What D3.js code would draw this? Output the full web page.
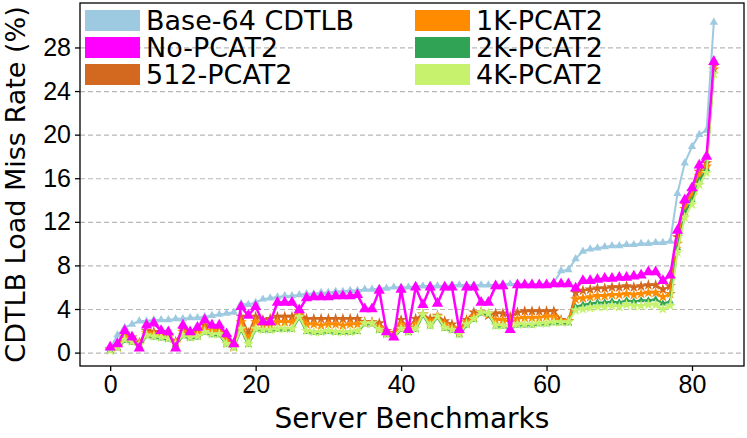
<!DOCTYPE html>
<html>
<head>
<meta charset="utf-8">
<script src="https://cdn.jsdelivr.net/npm/d3@7"></script>
<style>
  body { margin: 0; background: #fff; }
  svg { font-family: 'DejaVu Sans', sans-serif; }
  .axis text { font-size: 25px; fill: #000; }
  .axis path, .axis line { stroke: #000; stroke-width: 1.3; }
  .grid line { stroke: #b8b8b8; stroke-width: 1.2; stroke-dasharray: 5, 3; }
</style>
</head>
<body>
<svg id="chart"></svg>
<script>
const seriesNames = ['Base-64 CDTLB', 'No-PCAT2', '512-PCAT2', '1K-PCAT2', '2K-PCAT2', '4K-PCAT2'];
const yTicks = [0, 4, 8, 12, 16, 20, 24, 28];
const xTicks = [0, 20, 40, 60, 80];

const base = [0.4, 1.6, 2.3, 2.6, 2.9, 2.9, 3.0, 3.0, 3.0, 3.1,
  3.1, 3.2, 3.2, 3.3, 3.4, 3.5, 3.6, 3.7, 4.5, 4.4,
  4.6, 4.9, 5.0, 5.1, 5.2, 5.2, 5.3, 5.4, 5.4, 5.5,
  5.5, 5.6, 5.6, 5.7, 5.7, 5.8, 5.8, 5.9, 5.9, 6.0,
  6.0, 6.0, 6.1, 6.1, 6.1, 6.1, 6.1, 6.2, 6.2, 6.2,
  6.2, 6.2, 6.2, 6.2, 6.3, 6.3, 6.3, 6.3, 6.3, 6.3,
  6.3, 6.4, 7.5, 7.6, 8.6, 9.3, 9.5, 9.6, 9.7, 9.8,
  9.8, 9.9, 9.9, 10.0, 10.0, 10.1, 10.1, 10.2, 14.6, 17.4,
  18.9, 20.0, 20.4, 30.3];
const noPcat = [0.5, 0.8, 2.0, 1.4, 0.4, 2.5, 2.7, 2.0, 1.9, 0.4,
  2.5, 1.9, 2.3, 3.0, 2.5, 2.5, 1.7, 0.8, 4.2, 3.4,
  4.2, 2.8, 2.8, 4.6, 4.6, 4.6, 3.9, 5.0, 5.1, 5.1,
  5.1, 5.2, 5.2, 5.2, 5.3, 4.0, 4.0, 5.7, 1.9, 1.4,
  5.8, 2.1, 6.0, 4.4, 6.0, 4.5, 6.0, 6.0, 2.1, 6.0,
  6.0, 4.6, 4.6, 6.1, 6.1, 2.1, 6.2, 6.2, 6.2, 6.2,
  6.2, 6.3, 6.3, 6.3, 5.9, 6.6, 6.6, 6.7, 6.8, 6.8,
  6.9, 6.9, 7.0, 7.1, 7.4, 7.4, 6.6, 7.1, 11.2, 14.0,
  15.1, 17.2, 18.0, 26.7];
const pcat512 = [0.3, 0.6, 1.7, 1.4, 0.9, 2.0, 1.9, 1.8, 1.6, 1.0,
  2.1, 1.7, 1.9, 2.5, 2.3, 2.2, 1.4, 0.6, 3.3, 1.8,
  3.3, 3.0, 3.1, 3.3, 3.3, 3.3, 3.8, 3.1, 3.1, 3.1,
  3.1, 3.1, 3.1, 3.1, 3.1, 2.8, 2.8, 2.7, 2.0, 1.8,
  3.0, 2.3, 3.1, 3.5, 3.1, 3.4, 2.9, 2.6, 2.1, 3.0,
  3.7, 3.7, 3.4, 3.6, 3.6, 3.3, 3.7, 3.8, 3.8, 3.8,
  3.8, 3.8, 3.0, 2.9, 5.5, 5.7, 5.8, 5.9, 5.9, 6.0,
  6.0, 6.1, 6.0, 6.1, 6.2, 6.2, 5.8, 6.1, 10.6, 13.6,
  14.8, 16.6, 17.4, 26.3];
const pcat1k = [0.3, 0.5, 1.5, 1.2, 0.8, 1.8, 1.7, 1.6, 1.4, 0.9,
  1.9, 1.5, 1.7, 2.2, 2.0, 1.9, 1.1, 0.5, 2.8, 1.2,
  2.8, 2.5, 2.5, 2.8, 2.8, 2.8, 3.5, 2.6, 2.6, 2.5,
  2.6, 2.6, 2.5, 2.6, 2.6, 2.7, 2.7, 2.3, 1.8, 1.6,
  2.6, 2.0, 2.6, 3.5, 2.8, 3.3, 2.6, 2.3, 1.9, 2.8,
  3.3, 3.7, 3.5, 3.0, 3.0, 2.8, 3.1, 3.2, 3.2, 3.2,
  3.3, 3.3, 2.9, 2.9, 4.9, 5.0, 5.1, 5.2, 5.2, 5.3,
  5.3, 5.4, 5.3, 5.4, 5.5, 5.5, 5.1, 5.4, 10.0, 13.2,
  14.4, 16.2, 17.1, 26.0];
const pcat2k = [0.2, 0.4, 1.1, 0.9, 0.6, 1.5, 1.4, 1.3, 1.2, 0.7,
  1.5, 1.3, 1.4, 1.8, 1.6, 1.6, 0.7, 0.4, 2.1, 0.7,
  2.1, 2.0, 2.0, 2.1, 2.1, 2.1, 3.2, 1.9, 1.8, 1.8,
  1.9, 1.8, 1.8, 1.8, 1.9, 2.6, 2.6, 2.0, 1.6, 1.4,
  2.1, 1.8, 2.1, 3.4, 2.4, 3.2, 2.2, 2.0, 1.6, 2.5,
  3.0, 3.6, 3.5, 2.4, 2.4, 2.2, 2.5, 2.5, 2.5, 2.6,
  2.6, 2.7, 2.7, 2.7, 4.2, 4.4, 4.5, 4.6, 4.6, 4.7,
  4.6, 4.8, 4.7, 4.8, 4.8, 4.9, 4.5, 4.7, 9.6, 12.8,
  14.0, 15.8, 16.8, 25.8];
const pcat4k = [0.2, 0.5, 1.2, 1.0, 0.7, 1.6, 1.5, 1.4, 1.3, 0.8,
  1.6, 1.4, 1.5, 1.9, 1.7, 1.7, 0.8, 0.5, 2.2, 0.8,
  2.2, 2.1, 2.1, 2.2, 2.2, 2.2, 3.3, 2.0, 1.9, 1.9,
  2.0, 1.9, 1.9, 1.9, 2.0, 2.7, 2.7, 2.1, 1.7, 1.5,
  2.2, 1.9, 2.2, 3.5, 2.5, 3.3, 2.3, 2.1, 1.7, 2.6,
  3.1, 3.7, 3.6, 2.5, 2.5, 2.3, 2.6, 2.6, 2.6, 2.7,
  2.7, 2.8, 2.8, 2.8, 3.9, 4.0, 4.1, 4.2, 4.2, 4.3,
  4.2, 4.4, 4.3, 4.3, 4.4, 4.4, 4.0, 4.3, 9.2, 12.4,
  13.6, 15.4, 16.5, 25.6];

const width = 747;
const height = 438;
const margin = { top: 3, right: 3, bottom: 72, left: 80 };
const innerWidth = width - margin.left - margin.right;
const innerHeight = height - margin.top - margin.bottom;

const series = [
  { name: seriesNames[0], values: base, color: '#9ecae1', symbol: d3.symbolTriangle, size: 30, lw: 2 },
  { name: seriesNames[1], values: noPcat, color: '#ff00ff', symbol: d3.symbolTriangle, size: 55, lw: 2.5 },
  { name: seriesNames[2], values: pcat512, color: '#d2691e', symbol: d3.symbolStar, size: 40, lw: 2 },
  { name: seriesNames[3], values: pcat1k, color: '#ff8c00', symbol: d3.symbolStar, size: 40, lw: 2 },
  { name: seriesNames[4], values: pcat2k, color: '#31a354', symbol: d3.symbolTriangle, size: 22, lw: 2 },
  { name: seriesNames[5], values: pcat4k, color: '#c6f26e', symbol: d3.symbolStar, size: 40, lw: 2 },
];
// lower PCAT2 lines first, the two triangle lines on top
const drawOrder = [2, 3, 4, 5, 0, 1];

const svg = d3.select('#chart')
  .attr('width', width)
  .attr('height', height);

const g = svg.append('g')
  .attr('transform', `translate(${margin.left}, ${margin.top})`);

const x = d3.scaleLinear()
  .domain([-4.15, 87.15])
  .range([0, innerWidth]);
const y = d3.scaleLinear()
  .domain([-1.23, 32.08])
  .range([innerHeight, 0]);

// Dashed horizontal grid
g.append('g')
  .attr('class', 'grid')
  .call(d3.axisLeft(y).tickValues(yTicks).tickSize(-innerWidth).tickFormat(''))
  .select('.domain')
    .remove();

// Lines + markers
const line = d3.line()
  .x((d, i) => x(i))
  .y(d => y(d));

drawOrder.forEach((k) => {
  const s = series[k];
  g.append('path')
    .datum(s.values)
    .attr('fill', 'none')
    .attr('stroke', s.color)
    .attr('stroke-width', s.lw)
    .attr('stroke-linejoin', 'round')
    .attr('d', line);
  g.selectAll(`.mark-${k}`)
    .data(s.values)
    .enter().append('path')
      .attr('class', `mark-${k}`)
      .attr('fill', s.color)
      .attr('transform', (d, i) => `translate(${x(i)}, ${y(d)})`)
      .attr('d', d3.symbol().type(s.symbol).size(s.size));
});

// Axes
g.append('g')
  .attr('class', 'axis x')
  .attr('transform', `translate(0, ${innerHeight})`)
  .call(d3.axisBottom(x).tickValues(xTicks).tickSize(5).tickPadding(4).tickSizeOuter(0));
g.append('g')
  .attr('class', 'axis y')
  .call(d3.axisLeft(y).tickValues(yTicks).tickSize(5).tickPadding(4).tickSizeOuter(0));
g.selectAll('.axis .domain').remove();

// Frame
g.append('rect')
  .attr('width', innerWidth)
  .attr('height', innerHeight)
  .attr('fill', 'none')
  .attr('stroke', '#000')
  .attr('stroke-width', 1.3);

// Axis labels
svg.append('text')
  .attr('x', margin.left + x(41.5))
  .attr('y', 428)
  .attr('text-anchor', 'middle')
  .attr('font-size', 28)
  .text('Server Benchmarks');
svg.append('text')
  .attr('transform', `translate(25, ${margin.top + innerHeight / 2}) rotate(-90)`)
  .attr('text-anchor', 'middle')
  .attr('font-size', 27)
  .text('CDTLB Load Miss Rate (%)');

// Legend, two columns
const legend = svg.append('g')
  .attr('class', 'legend');
series.forEach((s, k) => {
  const col = Math.floor(k / 3);
  const row = k % 3;
  const lx = 85 + col * 330;
  const ly = 10 + row * 27;
  legend.append('rect')
    .attr('x', lx)
    .attr('y', ly)
    .attr('width', 55)
    .attr('height', 21)
    .attr('fill', s.color);
  legend.append('text')
    .attr('x', lx + 61)
    .attr('y', ly + 20)
    .attr('font-size', 27)
    .text(s.name);
});
</script>
</body>
</html>
